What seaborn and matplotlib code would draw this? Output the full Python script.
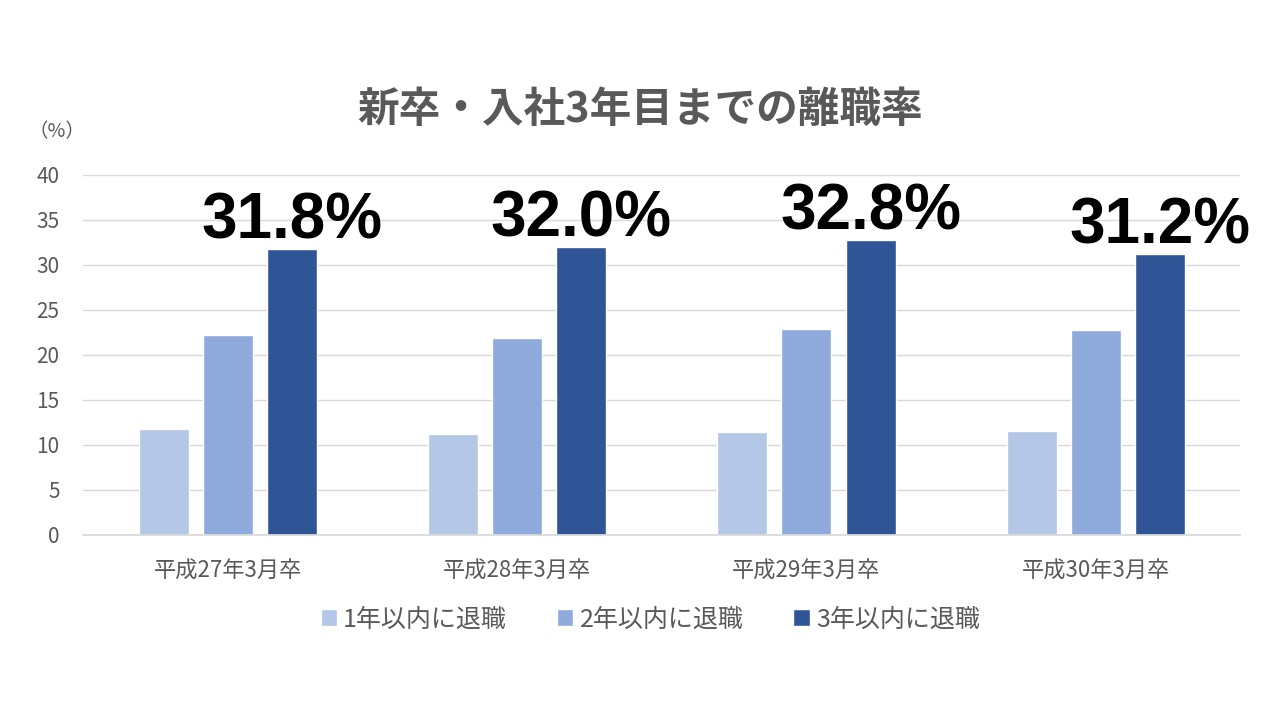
import pandas as pd
import matplotlib
matplotlib.use("Agg")
import matplotlib.pyplot as plt
import seaborn as sns

# data
years = ["平成27年3月卒", "平成28年3月卒", "平成29年3月卒", "平成30年3月卒"]
series = ["1年以内に退職", "2年以内に退職", "3年以内に退職"]
within1 = [11.8, 11.2, 11.4, 11.6]
within2 = [22.2, 21.9, 22.9, 22.8]
within3 = [31.8, 32.0, 32.8, 31.2]
labels3 = ["31.8%", "32.0%", "32.8%", "31.2%"]
colors = ["#B4C7E7", "#8FAADC", "#2F5597"]

df = pd.DataFrame({
    "year": years * 3,
    "series": [series[0]] * 4 + [series[1]] * 4 + [series[2]] * 4,
    "value": within1 + within2 + within3,
})

sns.set_theme(style="white")
plt.rcParams["font.family"] = ["Noto Sans CJK JP", "DejaVu Sans"]

fig = plt.figure(figsize=(12.8, 7.2), dpi=100)
ax = fig.add_axes([0.065, 0.257, 0.904, 0.5])

sns.barplot(data=df, x="year", y="value", hue="series", palette=colors,
            width=0.665, gap=0.22, saturation=1, ax=ax, legend=True)

ax.set_ylim(0, 40)
ax.set_yticks(range(0, 41, 5))
ax.yaxis.grid(True, color="#D9D9D9", linewidth=1)
ax.set_axisbelow(True)
for s in ["top", "right", "left"]:
    ax.spines[s].set_visible(False)
ax.spines["bottom"].set_color("#D9D9D9")
ax.tick_params(axis="both", length=0, colors="#595959")
ax.tick_params(axis="y", labelsize=15, pad=17)
ax.tick_params(axis="x", labelsize=16, pad=18)
ax.set_xlabel("")
ax.set_ylabel("")

# big labels above the 3-year bars
for bar, txt in zip(ax.containers[2], labels3):
    ax.text(bar.get_x() + bar.get_width() / 2, bar.get_height() - 0.3, txt,
            ha="center", va="bottom", fontsize=46, fontweight="bold",
            color="black", family=["Liberation Sans"])

handles, lbls = ax.get_legend_handles_labels()
ax.legend(handles, lbls, loc="center", bbox_to_anchor=(0.49, -0.235),
          ncol=3, frameon=False, fontsize=18, handlelength=0.65,
          handleheight=0.65, handletextpad=0.25, columnspacing=2.0,
          labelcolor="#595959")

fig.text(0.5, 0.847, "新卒・入社3年目までの離職率", ha="center", va="center",
         fontsize=30, fontweight="bold", color="#595959")
fig.text(0.022, 0.817, "（%）", ha="left", va="center", fontsize=14,
         color="#595959")

fig.savefig("out.png", dpi=100)
